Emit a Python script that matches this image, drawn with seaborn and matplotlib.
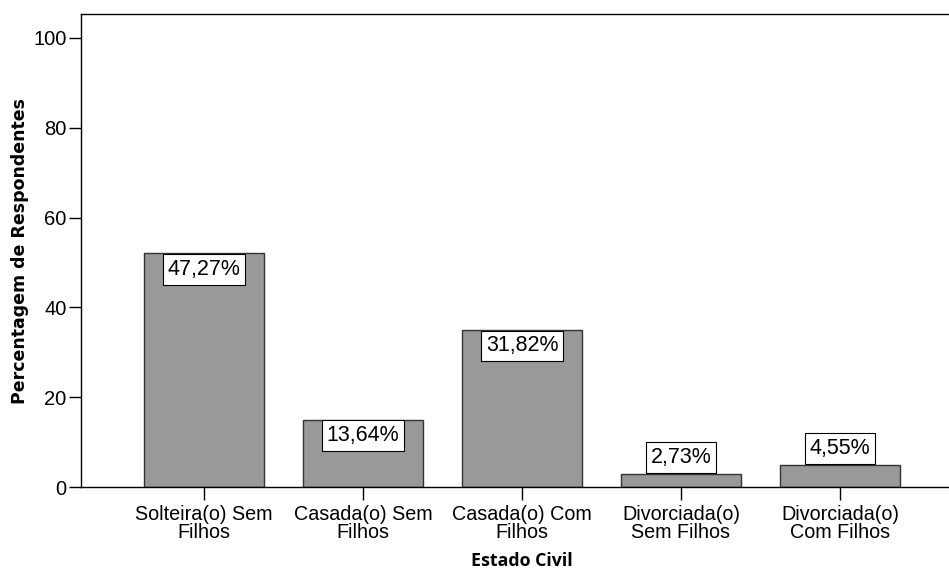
import numpy as np
import pandas as pd
import matplotlib
matplotlib.use("Agg")
import matplotlib.pyplot as plt
import seaborn as sns

# respondentes por estado civil (n = 110)
categorias = ["Solteira(o) Sem\nFilhos", "Casada(o) Sem\nFilhos", "Casada(o) Com\nFilhos",
              "Divorciada(o)\nSem Filhos", "Divorciada(o)\nCom Filhos"]
contagens = [52, 15, 35, 3, 5]
rotulos = ["47,27%", "13,64%", "31,82%", "2,73%", "4,55%"]
yticks = [0, 20, 40, 60, 80, 100]

sns.set_style("white")
plt.rcParams['font.family'] = ['Liberation Sans', 'DejaVu Sans']
plt.rcParams['text.color'] = 'black'
plt.rcParams['axes.labelcolor'] = 'black'
plt.rcParams['xtick.color'] = 'black'
plt.rcParams['ytick.color'] = 'black'

df = pd.DataFrame({"estado": categorias, "n": contagens})

fig = plt.figure(figsize=(9.49, 5.70), dpi=100)
ax = fig.add_axes([0.0854, 0.1456, 0.9146, 0.8298])

sns.barplot(data=df, x="estado", y="n", color="#999999", saturation=1,
            edgecolor="#333333", linewidth=1.0, width=0.75, ax=ax)

ax.set_ylim(0, 105.3)
ax.set_xlim(-0.774, 4.686)
ax.set_yticks(yticks)
ax.tick_params(axis="y", direction="out", length=9, width=1, labelsize=14.5, left=True, pad=1.5)
ax.tick_params(axis="x", direction="out", length=9, width=1, labelsize=14.2, bottom=True, pad=4)
for lab in ax.get_xticklabels():
    lab.set_linespacing(0.92)

for s in ["left", "bottom", "top"]:
    ax.spines[s].set_color("black")
    ax.spines[s].set_linewidth(1.0)
ax.spines["right"].set_visible(False)

# rotulos em caixas brancas
for i, (v, t) in enumerate(zip(contagens, rotulos)):
    if v > 10:
        ax.annotate(t, xy=(i, v), xytext=(0, -4), textcoords="offset points",
                    ha="center", va="top", fontsize=15.5,
                    bbox=dict(boxstyle="square,pad=0.22", fc="white", ec="black", lw=0.8))
    else:
        ax.annotate(t, xy=(i, v), xytext=(0, 4), textcoords="offset points",
                    ha="center", va="bottom", fontsize=15.5,
                    bbox=dict(boxstyle="square,pad=0.22", fc="white", ec="black", lw=0.8))

ax.set_ylabel("Percentagem de Respondentes", fontsize=12.5, fontweight="bold",
              family=["DejaVu Sans"])
ax.yaxis.set_label_coords(-0.06, 0.5)
ax.set_xlabel("Estado Civil", fontsize=12.8, fontweight="bold", family=["Open Sans", "DejaVu Sans"])
ax.xaxis.set_label_coords((522 - 81) / 868, -0.138)

fig.savefig("out.png", dpi=100)
